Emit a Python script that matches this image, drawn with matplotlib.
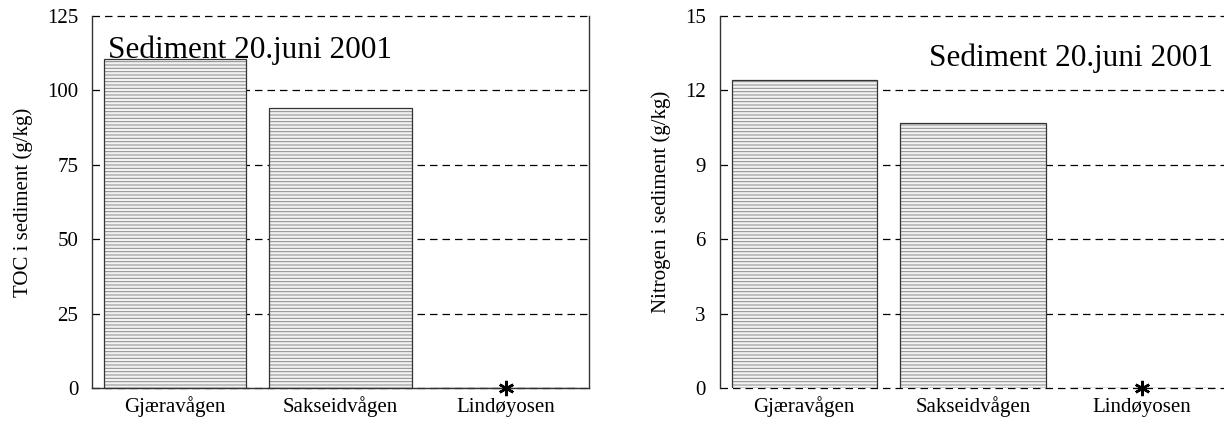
import numpy as np
import matplotlib
matplotlib.use("Agg")
import matplotlib.pyplot as plt

# data
sites = ["Gjæravågen", "Sakseidvågen", "Lindøyosen"]
toc_values = [110.4, 94.0, 0.0]
nitrogen_values = [12.41, 10.70, 0.0]
missing = [False, False, True]

toc_ticks = [0, 25, 50, 75, 100, 125]
n_ticks = [0, 3, 6, 9, 12, 15]
title = "Sediment 20.juni 2001"

plt.rcParams["font.family"] = ["Liberation Serif", "DejaVu Serif"]
plt.rcParams["hatch.linewidth"] = 0.7

fig = plt.figure(figsize=(12.24, 4.23), dpi=100)
ax1 = fig.add_axes([0.0752, 0.0816, 0.406, 0.881])
ax2 = fig.add_axes([0.588, 0.0816, 0.414, 0.881])


def draw_panel(ax, values, ticks, ylabel, title_x, title_y, bottom_solid):
    x = np.arange(len(sites))
    ax.bar(x, values, width=0.86, color="#f2f2f2", edgecolor="#8a8a8a",
           hatch="-----", linewidth=0, zorder=2)
    ax.bar(x, values, width=0.86, facecolor="none", edgecolor="#333333",
           linewidth=0.9, zorder=3)
    # missing sample marked with an asterisk on the baseline
    miss_x = [xi for xi, m in zip(x, missing) if m]
    miss_y = [v for v, m in zip(values, missing) if m]
    ax.plot(miss_x, miss_y, linestyle="none", marker=(6, 2, 0),
            markersize=11, markeredgewidth=1.8, color="black", zorder=4,
            clip_on=False)
    ax.set_xlim(-0.5, 2.5)
    ax.set_ylim(ticks[0], ticks[-1])
    ax.set_yticks(ticks)
    ax.set_xticks(x)
    ax.set_xticklabels(sites)
    ax.tick_params(axis="both", length=0, labelsize=15)
    ax.tick_params(axis="y", pad=10)
    ax.tick_params(axis="x", pad=17)
    for lab in ax.get_xticklabels():
        lab.set_va("baseline")
    ax.set_ylabel(ylabel, fontsize=15, labelpad=10)
    ax.yaxis.grid(True, linestyle=(0, (6, 4)), color="black", linewidth=0.9,
                  zorder=1)
    for gl in ax.get_ygridlines():
        gl.set_clip_on(False)
    ax.set_axisbelow(True)
    ax.spines["top"].set_visible(False)
    if not bottom_solid:
        ax.spines["bottom"].set_visible(False)
        ax.spines["right"].set_visible(False)
    for s in ax.spines.values():
        s.set_linewidth(1.0)
        s.set_color("#333333")
    ax.text(title_x, title_y, title, transform=ax.transAxes, fontsize=22.5,
            ha="left", va="baseline")


draw_panel(ax1, toc_values, toc_ticks, "TOC i sediment (g/kg)", 0.032, 0.887, True)
draw_panel(ax2, nitrogen_values, n_ticks, "Nitrogen i sediment (g/kg)", 0.413, 0.865, False)

fig.savefig("out.png", dpi=100)
